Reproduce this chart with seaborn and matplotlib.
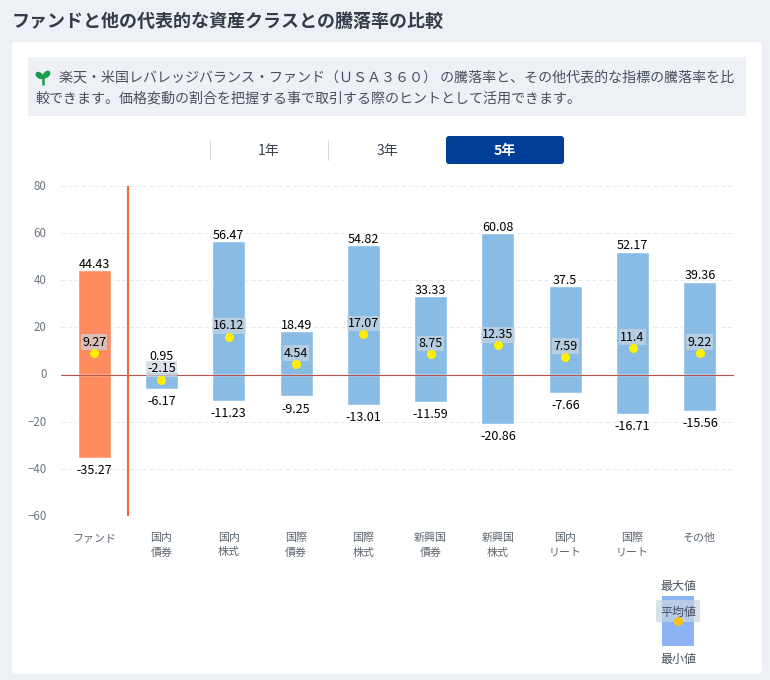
import matplotlib
matplotlib.use('Agg')
import matplotlib.pyplot as plt
from matplotlib.patches import FancyBboxPatch, Rectangle, Ellipse
from matplotlib.transforms import ScaledTranslation
import pandas as pd
import seaborn as sns

categories = ['ファンド', '国内\n債券', '国内\n株式', '国際\n債券', '国際\n株式', '新興国\n債券', '新興国\n株式', '国内\nリート', '国際\nリート', 'その他']
max_values = [44.43, 0.95, 56.47, 18.49, 54.82, 33.33, 60.08, 37.5, 52.17, 39.36]
min_values = [-35.27, -6.17, -11.23, -9.25, -13.01, -11.59, -20.86, -7.66, -16.71, -15.56]
mean_values = [9.27, -2.15, 16.12, 4.54, 17.07, 8.75, 12.35, 7.59, 11.4, 9.22]
y_ticks = [80, 60, 40, 20, 0, -20, -40, -60]

sns.set_theme(style='white')
plt.rcParams['font.family'] = ['Noto Sans CJK JP', 'DejaVu Sans']

df = pd.DataFrame({'cat': categories, 'max': max_values, 'min': min_values, 'mean': mean_values})
df['kind'] = ['fund'] + ['other'] * 9
colors = {'fund': '#ff8c5f', 'other': '#88bce4'}

fig = plt.figure(figsize=(7.7, 6.8), dpi=100, facecolor='#edf0f4')

# page furniture in pixel coordinates
bg = fig.add_axes([0, 0, 1, 1])
bg.set_xlim(0, 770)
bg.set_ylim(680, 0)
bg.axis('off')
bg.add_patch(FancyBboxPatch((12, 42), 750, 632, boxstyle='round,pad=0,rounding_size=4', fc='white', ec='none'))
bg.text(12, 22, 'ファンドと他の代表的な資産クラスとの騰落率の比較', fontsize=12.98, fontweight='bold', color='#333c48', va='center')
bg.add_patch(Rectangle((28, 57), 718, 59, fc='#edf0f4', ec='none'))
bg.text(59, 77, '楽天・米国レバレッジバランス・ファンド（ＵＳＡ３６０） の騰落率と、その他代表的な指標の騰落率を比', fontsize=10.08, color='#47505c', va='center')
bg.text(35, 98, '較できます。価格変動の割合を把握する事で取引する際のヒントとして活用できます。', fontsize=10.08, color='#47505c', va='center')
bg.plot([43, 43], [75, 85], color='#1a9c4b', lw=1.8, solid_capstyle='butt')
bg.add_patch(Ellipse((39.5, 75.5), 9, 6, angle=40, fc='#1a9c4b', ec='none'))
bg.add_patch(Ellipse((46.5, 74.5), 9, 6, angle=-45, fc='#1a9c4b', ec='none'))

for x in [209.5, 327.5]:
    bg.plot([x, x], [140, 160], color='#d3d9df', lw=0.7)
bg.text(268.5, 151, '1年', fontsize=10.08, color='#39424e', ha='center', va='center')
bg.text(387.5, 151, '3年', fontsize=10.08, color='#39424e', ha='center', va='center')
bg.add_patch(FancyBboxPatch((446, 136), 118, 28, boxstyle='round,pad=0,rounding_size=3', fc='#003f98', ec='none'))
bg.text(505, 151, '5年', fontsize=10.08, fontweight='bold', color='white', ha='center', va='center')

# legend
bg.add_patch(Rectangle((662, 596), 32, 50, fc='#8cb4f5', ec='none'))
bg.add_patch(Rectangle((656, 600), 44, 22, fc='#cbd5e0', alpha=0.7, ec='none', zorder=3))
bg.scatter([678], [621], s=42, color='#f5c518', zorder=5, linewidths=0)
bg.text(678, 586.5, '最大値', fontsize=8.64, color='#47505c', ha='center', va='center')
bg.text(678, 612.5, '平均値', fontsize=8.64, color='#47505c', ha='center', va='center', zorder=4)
bg.text(678, 659, '最小値', fontsize=8.64, color='#47505c', ha='center', va='center')

# chart
ax = fig.add_axes([60.5 / 770, 1 - 516 / 680, 673 / 770, 330 / 680])
ax.patch.set_alpha(0)
for col in ['max', 'min']:
    sns.barplot(data=df, x='cat', y=col, hue='kind', dodge=False, legend=False,
                palette=colors, width=0.49, saturation=1, ax=ax, zorder=2)
sns.scatterplot(data=df, x='cat', y='mean', color='#ffee00', s=42, linewidth=0, ax=ax, zorder=6, legend=False)

ax.set_xlim(-0.5, 9.5)
ax.set_ylim(-60, 80)
ax.set_yticks(y_ticks)
ax.set_xlabel('')
ax.set_ylabel('')
ax.grid(axis='y', color='#e6e8eb', lw=0.7, ls=(0, (4, 3)), zorder=0)
ax.set_axisbelow(True)
ax.axhline(0, color='#b5524c', lw=0.8, zorder=3)
ax.axvline(0.5, color='#f06a35', lw=1.5, zorder=3)
sns.despine(ax=ax, left=True, bottom=True, top=True, right=True)
ax.tick_params(axis='y', length=0, pad=10, labelsize=8.3, labelcolor='#6d7680')
ax.tick_params(axis='x', length=0, pad=12, labelsize=7.9, labelcolor='#5d6670')
for lab in ax.get_xticklabels():
    lab.set_linespacing(1.55)
for lab in ax.get_yticklabels():
    lab.set_transform(lab.get_transform() + ScaledTranslation(0, 1.2 / 100, fig.dpi_scale_trans))

for i, row in df.iterrows():
    # the small bond bar pushes its top label above the mean label
    top_offset = 7 if row['cat'] == '国内\n債券' else -0.5
    ax.annotate(f"{row['max']:g}", (i, row['max']), xytext=(0, top_offset), textcoords='offset points', ha='center', va='bottom',
                fontsize=9, color='black', zorder=7)
    ax.annotate(f"{row['min']:g}", (i, row['min']), xytext=(0, -4.5), textcoords='offset points', ha='center', va='top',
                fontsize=9, color='black', zorder=7)
    ax.annotate(f"{row['mean']:g}", (i, row['mean']), xytext=(0, 3), textcoords='offset points', ha='center', va='bottom',
                fontsize=9, color='black', zorder=5,
                bbox=dict(boxstyle='square,pad=0.1', fc='#cbd5e0', alpha=0.7, ec='none'))

fig.savefig('out.png', dpi=100, facecolor=fig.get_facecolor())
